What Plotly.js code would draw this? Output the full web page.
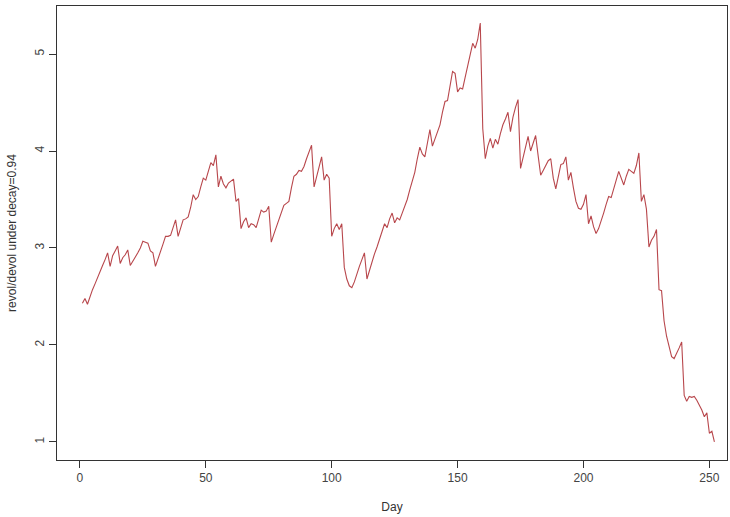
<!DOCTYPE html>
<html>
<head>
<meta charset="utf-8">
<script src="https://cdn.plot.ly/plotly-3.0.1.min.js"></script>
<style>html,body{margin:0;padding:0;background:#fff;}#chart{width:730px;height:517px;}</style>
</head>
<body>
<div id="chart"></div>
<script>
// revol/devol ratio under decay = 0.94, by day (1..252)
const revolDevol = [
  2.43, 2.48, 2.42, 2.50, 2.57, 2.63, 2.70, 2.75, 2.82, 2.88,
  2.95, 2.81, 2.92, 2.97, 3.02, 2.84, 2.90, 2.93, 2.98, 2.82,
  2.86, 2.91, 2.95, 3.00, 3.07, 3.06, 3.05, 2.97, 2.95, 2.81,
  2.88, 2.96, 3.04, 3.12, 3.12, 3.13, 3.22, 3.29, 3.12, 3.20,
  3.29, 3.30, 3.32, 3.42, 3.55, 3.50, 3.53, 3.63, 3.72, 3.70,
  3.80, 3.88, 3.85, 3.96, 3.63, 3.74, 3.66, 3.62, 3.67, 3.69,
  3.71, 3.48, 3.51, 3.20, 3.27, 3.31, 3.21, 3.25, 3.24, 3.21,
  3.30, 3.39, 3.37, 3.38, 3.43, 3.06, 3.14, 3.22, 3.30, 3.38,
  3.44, 3.46, 3.48, 3.62, 3.74, 3.76, 3.80, 3.79, 3.84, 3.92,
  3.99, 4.06, 3.63, 3.74, 3.85, 3.94, 3.70, 3.76, 3.72, 3.12,
  3.20, 3.25, 3.19, 3.25, 2.80, 2.68, 2.61, 2.59, 2.65, 2.74,
  2.81, 2.88, 2.95, 2.68, 2.77, 2.86, 2.94, 3.01, 3.09, 3.17,
  3.25, 3.21, 3.30, 3.36, 3.26, 3.31, 3.29, 3.36, 3.43, 3.50,
  3.60, 3.69, 3.78, 3.92, 4.04, 3.97, 3.94, 4.08, 4.22, 4.05,
  4.12, 4.20, 4.27, 4.40, 4.51, 4.52, 4.66, 4.82, 4.80, 4.61,
  4.65, 4.64, 4.76, 4.88, 5.00, 5.11, 5.06, 5.15, 5.32, 4.23,
  3.92, 4.05, 4.13, 4.03, 4.12, 4.07, 4.18, 4.27, 4.33, 4.40,
  4.20, 4.35, 4.45, 4.53, 3.82, 3.93, 4.05, 4.15, 4.00, 4.08,
  4.16, 3.95, 3.75, 3.80, 3.85, 3.90, 3.92, 3.72, 3.61, 3.75,
  3.86, 3.87, 3.94, 3.70, 3.78, 3.62, 3.48, 3.41, 3.40, 3.45,
  3.55, 3.25, 3.33, 3.22, 3.15, 3.20, 3.27, 3.36, 3.45, 3.53,
  3.52, 3.60, 3.70, 3.79, 3.72, 3.65, 3.74, 3.81, 3.79, 3.77,
  3.85, 3.98, 3.48, 3.55, 3.40, 3.01, 3.08, 3.12, 3.19, 2.57,
  2.56, 2.25, 2.09, 1.98, 1.88, 1.86, 1.91, 1.97, 2.03, 1.48,
  1.42, 1.47, 1.46, 1.47, 1.43, 1.38, 1.33, 1.26, 1.30, 1.09,
  1.11, 1.00
];
const days = revolDevol.map((_, i) => i + 1);
const xTicks = [0, 50, 100, 150, 200, 250];
const yTicks = [1, 2, 3, 4, 5];
const xLabel = "Day";
const yLabel = "revol/devol under decay=0.94";

const axisCommon = {
  showgrid: false,
  zeroline: false,
  showline: true,
  mirror: true,
  linecolor: "#333",
  linewidth: 1,
  ticks: "outside",
  ticklen: 7,
  tickwidth: 1,
  tickcolor: "#333",
  tickfont: {family: "Liberation Sans, Arial, sans-serif", size: 12, color: "#444"}
};

const trace = {
  x: days,
  y: revolDevol,
  type: "scatter",
  mode: "lines",
  line: {color: "#b8474c", width: 1.1},
  hoverinfo: "x+y"
};

const layout = {
  width: 730,
  height: 517,
  margin: {l: 57, r: 3, t: 6, b: 57},
  paper_bgcolor: "#fff",
  plot_bgcolor: "#fff",
  showlegend: false,
  xaxis: Object.assign({}, axisCommon, {
    range: [-9.1, 257.0],
    tickvals: xTicks,
    ticktext: xTicks.map(String),
    title: {text: xLabel, standoff: 18, font: {family: "Liberation Sans, Arial, sans-serif", size: 12, color: "#333"}},
    automargin: false
  }),
  yaxis: Object.assign({}, axisCommon, {
    range: [0.814, 5.495],
    tickvals: yTicks,
    ticktext: yTicks.map(String),
    tickangle: -90,
    title: {text: yLabel, standoff: 14, font: {family: "Liberation Sans, Arial, sans-serif", size: 12, color: "#333"}},
    automargin: false
  })
};

Plotly.newPlot("chart", [trace], layout, {staticPlot: true, displayModeBar: false});
</script>
</body>
</html>
